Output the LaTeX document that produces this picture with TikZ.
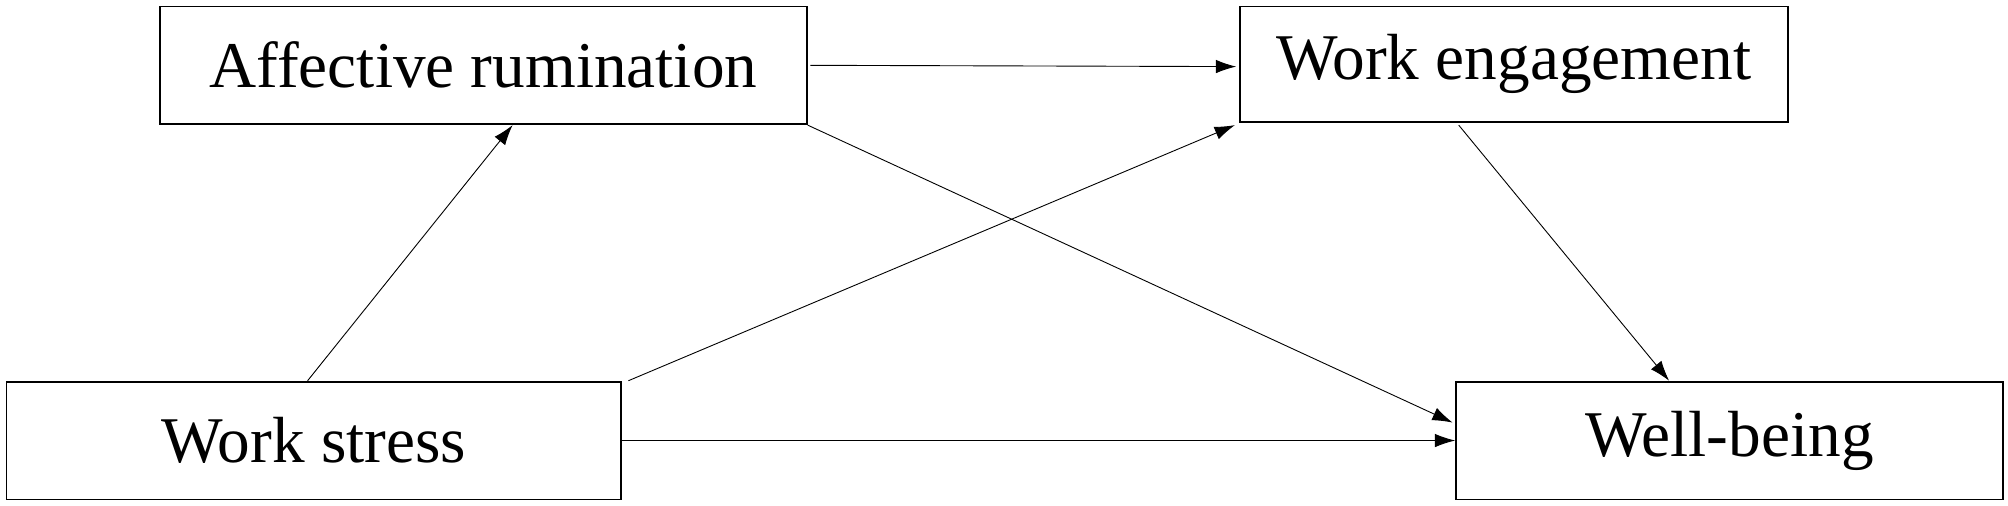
\documentclass[tikz,border=0pt]{standalone}
\usepackage{fontspec}
\setmainfont{Liberation Serif}
\usetikzlibrary{calc,arrows.meta}
\begin{document}
\begin{tikzpicture}[x=0.02cm,y=-0.02cm,
    box/.style={draw,thick,inner sep=0pt,font=\fontsize{29}{34}\selectfont},
    link/.style={-{Latex[length=9pt,width=6pt]}}]
    \useasboundingbox (0,0) rectangle (1568,395);

    \node[box,minimum width=505*0.02cm,minimum height=92*0.02cm] (rum) at (377.5,51) {Affective rumination};
    \node[box,minimum width=428*0.02cm,minimum height=90*0.02cm] (eng) at (1182,50) {Work engagement};
    \node[box,minimum width=480*0.02cm,minimum height=92*0.02cm] (str) at (245,344) {Work stress};
    \node[box,minimum width=427*0.02cm,minimum height=92*0.02cm] (wel) at (1350.5,344) {Well-being};

    \draw[link] ($(str.north west)!0.49!(str.north east)$) -- ($(rum.south west)!0.545!(rum.south east)$);
    \draw[link] ($(str.north east)+(5,0)$) -- ($(eng.south west)+(-3,2)$);
    \draw[link] ($(rum.east)+(2,0)$) -- ($(eng.west)+(-2,2)$);
    \draw[link] (rum.south east) -- ($(wel.north west)!0.35!(wel.south west)+(-2,0)$);
    \draw[link] ($(eng.south west)!0.4!(eng.south east)+(0,2)$) -- ($(wel.north west)!0.39!(wel.north east)$);
    \draw[link] (str.east) -- (wel.west);
\end{tikzpicture}
\end{document}
